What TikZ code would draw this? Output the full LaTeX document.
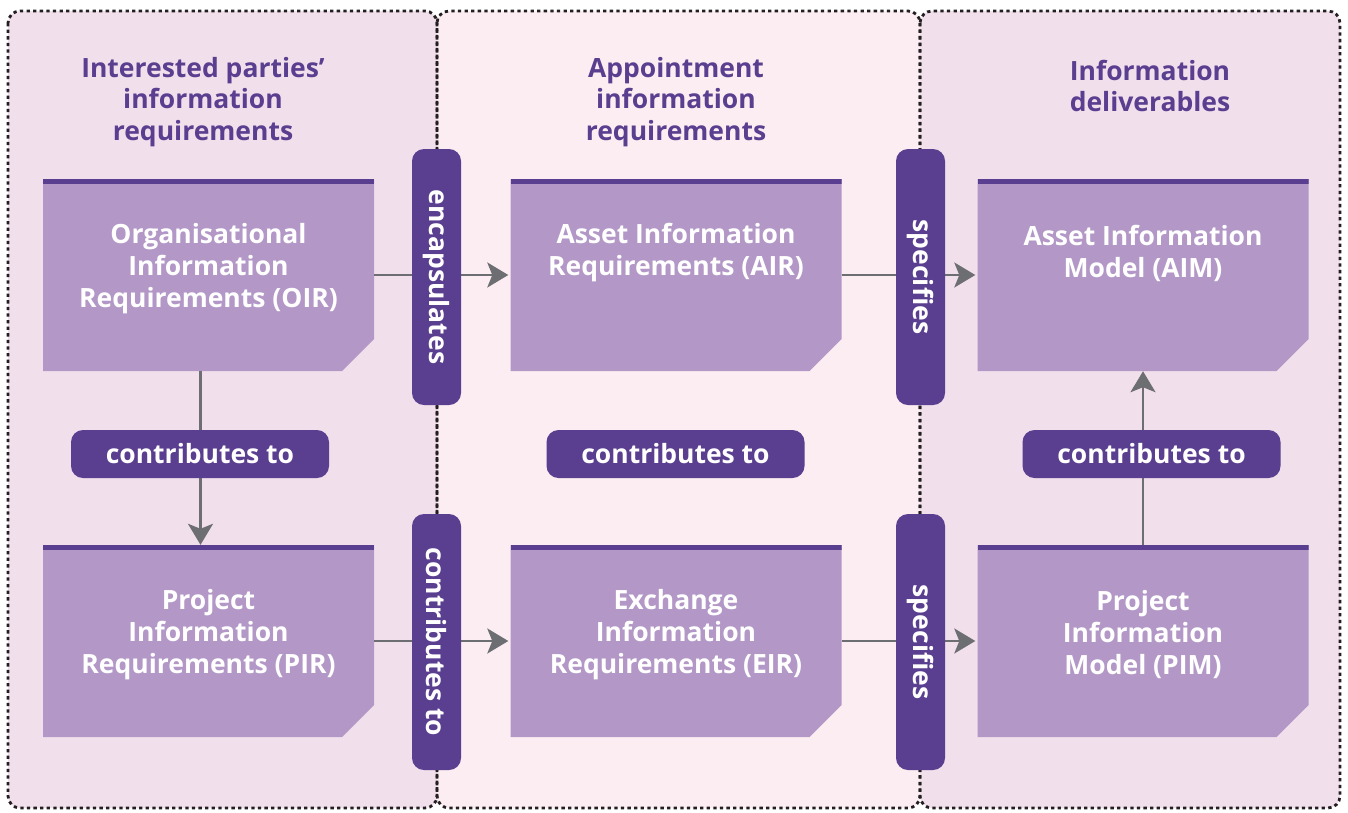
\documentclass[tikz,border=0pt]{standalone}
\usepackage{fontspec}
\setmainfont{Open Sans}
\usetikzlibrary{arrows.meta}
\definecolor{pa}{RGB}{241, 223, 236}
\definecolor{pb}{RGB}{252, 237, 242}
\definecolor{bx}{RGB}{179, 152, 199}
\definecolor{cc}{RGB}{90, 62, 143}
\definecolor{gr}{RGB}{109, 110, 113}
\definecolor{dk}{RGB}{35, 31, 32}

\begin{document}
\begin{tikzpicture}[x=1pt, y=-1pt,
  docbox/.style={minimum width=331pt, minimum height=192pt, inner sep=0pt,
    path picture={
      \fill[bx] (path picture bounding box.north west) -- (path picture bounding box.north east)
        -- ([yshift=32pt]path picture bounding box.south east) -- ([xshift=-32pt]path picture bounding box.south east)
        -- (path picture bounding box.south west) -- cycle;
      \fill[cc] (path picture bounding box.north west) rectangle ([yshift=-5pt]path picture bounding box.north east);}},
  boxtext/.style={text=white, align=center, font=\fontsize{26.5pt}{32pt}\selectfont\bfseries},
  title/.style={text=cc, align=center, font=\fontsize{26.5pt}{31.5pt}\selectfont\bfseries},
  pill/.style={fill=cc, rounded corners=12pt, text=white, inner sep=0pt, font=\fontsize{26.5pt}{32pt}\selectfont\bfseries},
  hpill/.style={pill, minimum width=258pt, minimum height=48pt},
  vpill/.style={pill, minimum width=256pt, minimum height=49pt, rotate=-90},
  flow/.style={draw=gr, line width=2.6pt, -{Stealth[length=21pt, width=25pt, inset=5pt]}},
  frame/.style={draw=dk, line width=2.8pt, dash pattern=on 3.3pt off 3.3pt, rounded corners=12pt}]
\useasboundingbox (0, 0) rectangle (1348, 812);
% panels
\fill [pa, rounded corners=12pt] (8, 11) rectangle (437, 808);
\fill [pb, rounded corners=12pt] (437, 11) rectangle (920, 808);
\fill [pa, rounded corners=12pt] (920, 11) rectangle (1340, 808);
\draw [frame] (8, 11) rectangle (437, 808);
\draw [frame] (437, 11) rectangle (920, 808);
\draw [frame] (920, 11) rectangle (1340, 808);
\node (ta) [title] at (203, 102) {Interested parties’\\information\\requirements};
\node (tb) [title] at (676, 102) {Appointment\\information\\requirements};
\node (tc) [title] at (1150, 86) {Information\\deliverables};
% boxes
\node (oir) [docbox, label={[boxtext, yshift=6pt]center:Organisational\\Information\\Requirements (OIR)}] at (208.5, 275) {};
\node (air) [docbox, label={[boxtext, yshift=22pt]center:Asset Information\\Requirements (AIR)}] at (676, 275) {};
\node (aim) [docbox, label={[boxtext, yshift=22pt]center:Asset Information\\Model (AIM)}] at (1143, 275) {};
\node (pir) [docbox, label={[boxtext, yshift=6pt]center:Project\\Information\\Requirements (PIR)}] at (208.5, 641) {};
\node (eir) [docbox, label={[boxtext, yshift=6pt]center:Exchange\\Information\\Requirements (EIR)}] at (676, 641) {};
\node (pim) [docbox, label={[boxtext, yshift=6pt]center:Project\\Information\\Model (PIM)}] at (1143, 641) {};
% connectors
\draw [flow, shorten >=2pt] (oir.east) -- (air.west);
\draw [flow, shorten >=2pt] (air.east) -- (aim.west);
\draw [flow, shorten >=2pt] (pir.east) -- (eir.west);
\draw [flow, shorten >=2pt] (eir.east) -- (pim.west);
\draw [flow] ([xshift=-8pt]oir.south) -- ([xshift=-8pt]pir.north);
\draw [flow] (pim.north) -- (aim.south);
% labels
\node (enc) [vpill] at (436.5, 277) {encapsulates};
\node (ctb) [vpill] at (436.5, 642) {contributes to};
\node (sp1) [vpill] at (920.5, 277) {specifies};
\node (sp2) [vpill] at (920.5, 642) {specifies};
\node (c1) [hpill] at (200, 454) {contributes to};
\node (c2) [hpill] at (675.5, 454) {contributes to};
\node (c3) [hpill] at (1151.5, 454) {contributes to};
\end{tikzpicture}
\end{document}
